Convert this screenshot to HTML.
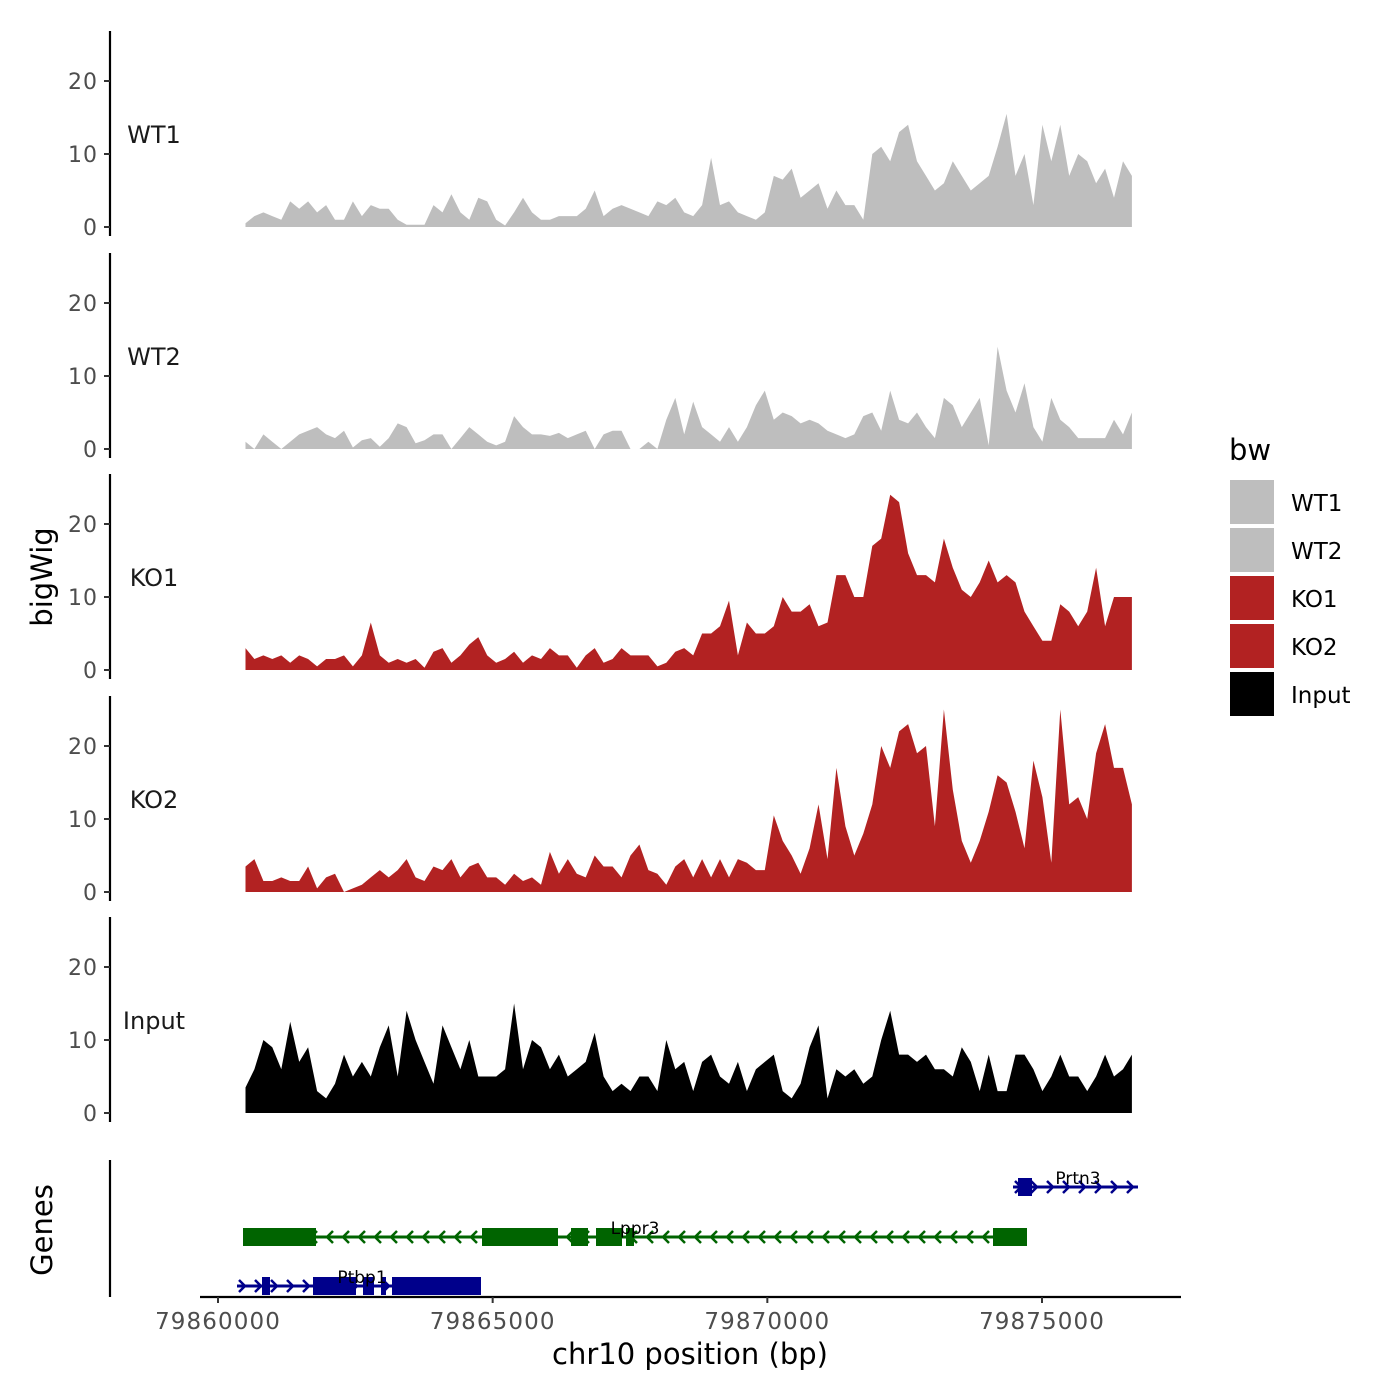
<!DOCTYPE html>
<html><head><meta charset="utf-8"><style>
html,body{margin:0;padding:0;background:#fff}
svg{display:block;font-family:"DejaVu Sans","Liberation Sans",sans-serif}
</style></head><body>
<svg id="chart" width="1400" height="1400" viewBox="0 0 1400 1400" xmlns="http://www.w3.org/2000/svg">
<rect width="1400" height="1400" fill="#fff"/>
<g id="tracks"></g>
<g id="genes"></g>
<g id="xaxis"></g>
<text x="52" y="577" font-size="29" text-anchor="middle" transform="rotate(-90 52 577)">bigWig</text>
<text x="52" y="1230" font-size="29" text-anchor="middle" transform="rotate(-90 52 1230)">Genes</text>
<text x="690" y="1364" font-size="29" text-anchor="middle">chr10 position (bp)</text>
<g>
<text x="1229" y="460" font-size="29">bw</text>
<rect x="1230" y="480" width="44" height="44" fill="#bebebe"/>
<text x="1291" y="511" font-size="23">WT1</text>
<rect x="1230" y="528" width="44" height="44" fill="#bebebe"/>
<text x="1291" y="559" font-size="23">WT2</text>
<rect x="1230" y="576" width="44" height="44" fill="#b22222"/>
<text x="1291" y="607" font-size="23">KO1</text>
<rect x="1230" y="624" width="44" height="44" fill="#b22222"/>
<text x="1291" y="655" font-size="23">KO2</text>
<rect x="1230" y="672" width="44" height="44" fill="#000"/>
<text x="1291" y="703" font-size="23">Input</text>
</g>
</svg>
<script>
const startBp = 79860500;
const stepBp = 163;
const trackNames = ["WT1","WT2","KO1","KO2","Input"];
const trackColors = ["#bebebe","#bebebe","#b22222","#b22222","#000000"];
const yTicks = [0,10,20];
const xTicks = [79860000,79865000,79870000,79875000];
const wt1 = [0.5,1.5,2,1.5,1,3.5,2.5,3.5,2,3,1,1,3.5,1.5,3,2.5,2.5,1,0.3,0.3,0.3,3,2,4.5,2,1,4,3.5,1,0.2,2,4,2,1,1,1.5,1.5,1.5,2.5,5,1.5,2.5,3,2.5,2,1.5,3.5,3,4,2,
1.5,3,9.5,3,3.5,2,1.5,1,2,7,6.5,8,4,5,6,2.5,5,3,3,1,10,11,9,13,14,9,7,5,6,9,7,5,6,7,11,15.5,7,10,3,14,9,14,7,10,9,6,8,4,9,7];
const wt2 = [1,0,2,1,0,1,2,2.5,3,2,1.5,2.5,0.2,1.2,1.5,0.3,1.5,3.5,3,0.8,1.2,2,2,0,1.5,3,2,1,0.5,1,4.5,3,2,2,1.8,2.2,1.5,2,2.5,0,2,2.5,2.5,0,0,1,0,4,7,2,
6.5,3,2,1,3,1,3,6,8,4,5,4.5,3.5,4,3.5,2.5,2,1.5,2,4.5,5,2.5,8,4,3.5,5,3,1.5,7,6,3,5,7,0.5,14,8,5,9,3,1,7,4,3,1.5,1.5,1.5,1.5,4,2,5];
const ko1 = [3,1.5,2,1.5,2,1,2,1.5,0.5,1.5,1.5,2,0.5,2,6.5,2,1,1.5,1,1.5,0.3,2.5,3,1,2,3.5,4.5,2,1,1.5,2.5,1,2,1.5,3,2,2,0.3,2,3,1,1.5,3,2,2,2,0.5,1,2.5,3,
2,5,5,6,9.5,2,6.5,5,5,6,10,8,8,9,6,6.5,13,13,10,10,17,18,24,23,16,13,13,12,18,14,11,10,12,15,12,13,12,8,6,4,4,9,8,6,8,14,6,10,10,10];
const ko2 = [3.5,4.5,1.5,1.5,2,1.5,1.5,3.5,0.5,2,2.5,0,0.5,1,2,3,2,3,4.5,2,1.5,3.5,3,4.5,2,3.5,4,2,2,1,2.5,1.5,2,1,5.5,2.5,4.5,2.5,2,5,3.5,3.5,2,5,6.5,3,2.5,1,3.5,4.5,
2,4.5,2,4.5,2,4.5,4,3,3,10.5,7,5,2.5,6,12,4.5,17,9,5,8,12,20,17,22,23,19,20,9,25,14,7,4,7,11,16,15,11,6,18,13,4,25,12,13,10,19,23,17,17,12];
const input = [3.5,6,10,9,6,12.5,7,9,3,2,4,8,5,7,5,9,12,5,14,10,7,4,12,9,6,10,5,5,5,6,15,6,10,9,6,8,5,6,7,11,5,3,4,3,5,5,3,10,6,7,
3,7,8,5,4,7,3,6,7,8,3,2,4,9,12,2,6,5,6,4,5,10,14,8,8,7,8,6,6,5,9,7,3,8,3,3,8,8,6,3,5,8,5,5,3,5,8,5,6,8];
const trackData = [wt1,wt2,ko1,ko2,input];

const NS = "http://www.w3.org/2000/svg";
const xScale = bp => 218 + (bp - 79860000) * (824/15000);
const zeroY = [227,449,670,892,1113];
const pxPerUnit = 7.3;
function mk(tag, attrs, parent){const e=document.createElementNS(NS,tag);for(const k in attrs)e.setAttribute(k,attrs[k]);parent.appendChild(e);return e;}

const tg = document.getElementById('tracks');
trackData.forEach((vals, t) => {
  const y0 = zeroY[t];
  const yS = v => y0 - v*pxPerUnit;
  const g = mk('g', {}, tg);
  
  
  let d = 'M' + xScale(startBp).toFixed(1) + ',' + y0;
  vals.forEach((v,i) => { d += ' L' + xScale(startBp + i*stepBp).toFixed(1) + ',' + yS(v).toFixed(1); });
  d += ' L' + xScale(startBp + (vals.length-1)*stepBp).toFixed(1) + ',' + y0 + ' Z';
  const p = mk('path', {d:d, fill:trackColors[t]}, g);
  
  
  const ax = mk('line', {x1:110,x2:110,y1:y0-196,y2:y0+9,stroke:'#000','stroke-width':2.2}, g);
  
  
  yTicks.forEach(v => {
    mk('line', {x1:104,x2:110,y1:yS(v),y2:yS(v),stroke:'#333','stroke-width':2}, g);
    const tx = mk('text', {x:98,y:yS(v)+8,'font-size':22,'text-anchor':'end',fill:'#4d4d4d','letter-spacing':1}, g);
    tx.textContent = v;
    
    
  });
  const lab = mk('text', {x:154,y:y0-84,'font-size':24,'text-anchor':'middle',fill:'#1a1a1a'}, g);
  lab.textContent = trackNames[t];
  
  
});

// genes
const gg = document.getElementById('genes');
mk('line', {x1:110,x2:110,y1:1160,y2:1297,stroke:'#000','stroke-width':2.2}, gg);
function gene(name, y, color, x1, x2, exons, dir, labelX){
  const g = mk('g', {}, gg);
  
  
  mk('line', {x1:x1,x2:x2,y1:y,y2:y,stroke:color,'stroke-width':3}, g);
  for(let x=x1+6; x<x2-2; x+=16){
    const d = dir>0 ? `M${x-4},${y-6} L${x+2},${y} L${x-4},${y+6}` : `M${x+4},${y-6} L${x-2},${y} L${x+4},${y+6}`;
    mk('path', {d:d, stroke:color,'stroke-width':2.5,fill:'none'}, g);
  }
  exons.forEach(e => mk('rect', {x:e[0],y:y-9,width:e[1]-e[0],height:18,fill:color}, g));
  const t = mk('text', {x:labelX,y:y-3,'font-size':17,'text-anchor':'middle',fill:'#000'}, g);
  t.textContent = name;
}
gene('Prtn3', 1187, '#00008b', 1013, 1138, [[1018,1032]], 1, 1078);
gene('Lppr3', 1237, '#006400', 243, 1027, [[243,316],[482,558],[571,588],[596,622],[626,634],[993,1027]], -1, 635);
gene('Ptbp1', 1286, '#00008b', 237, 481, [[262,270],[313,356],[363,374],[381,386],[392,481]], 1, 362);

// x axis
const xg = document.getElementById('xaxis');
const xl = mk('line', {x1:200,x2:1181,y1:1297,y2:1297,stroke:'#000','stroke-width':2.2}, xg);


xTicks.forEach(v => {
  const x = xScale(v);
  mk('line', {x1:x,x2:x,y1:1297,y2:1303,stroke:'#333','stroke-width':2}, xg);
  const t = mk('text', {x:x,y:1329,'font-size':23,'text-anchor':'middle',fill:'#4d4d4d','letter-spacing':1.1}, xg);
  t.textContent = v;
  
  
});
</script>
</body></html>
